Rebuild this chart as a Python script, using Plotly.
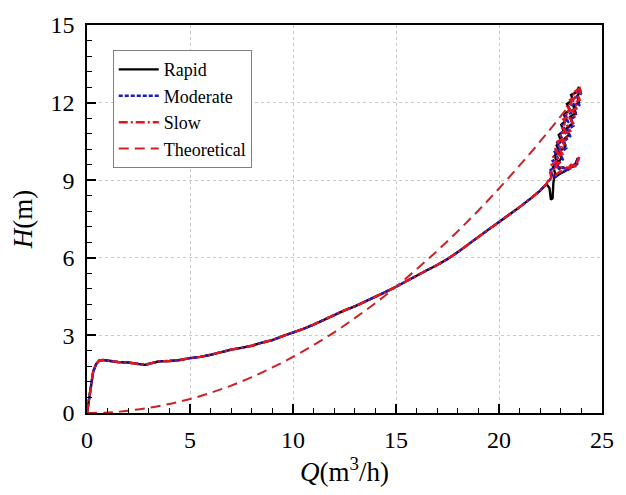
import plotly.graph_objects as go

# Shared rising section of the measured head-flow curve (the three runs coincide here)
q_main = [0.0, 0.1, 0.2, 0.3, 0.45, 0.6, 0.8, 1.0, 1.5, 2.0, 2.5, 2.8, 3.1, 3.5, 4.0,
          4.5, 5.0, 5.5, 6.0, 6.5, 7.0, 7.5, 8.0, 8.5, 9.0, 9.5, 10.0, 10.5, 11.0,
          11.5, 12.0, 12.5, 13.0, 13.5, 14.0, 14.5, 15.0, 15.5, 16.0, 16.5, 17.0,
          17.5, 18.0, 18.5, 19.0, 19.5, 20.0, 20.5, 21.0, 21.5, 22.0, 22.3]
h_main = [0.0, 0.6, 1.2, 1.6, 1.9, 2.03, 2.05, 2.02, 1.97, 1.95, 1.9, 1.86, 1.92, 2.0,
          2.01, 2.05, 2.12, 2.17, 2.25, 2.35, 2.45, 2.52, 2.6, 2.72, 2.82, 2.97, 3.1,
          3.25, 3.42, 3.6, 3.8, 3.97, 4.12, 4.3, 4.5, 4.68, 4.88, 5.1, 5.3, 5.52,
          5.72, 5.95, 6.22, 6.52, 6.82, 7.1, 7.38, 7.66, 7.96, 8.27, 8.6, 8.85]

# Unsteady end of each run, as (Q, H) pairs
rapid_tail = [(22.45, 8.7), (22.52, 8.25), (22.6, 8.3), (22.64, 8.9), (22.72, 9.3),
              (22.62, 9.5), (22.82, 9.7), (22.7, 9.95), (22.92, 10.1), (22.8, 10.35),
              (23.02, 10.5), (22.9, 10.75), (23.14, 10.9), (23.02, 11.15), (23.26, 11.3),
              (23.15, 11.55), (23.42, 11.7), (23.3, 11.95), (23.58, 12.1), (23.5, 12.3),
              (23.75, 12.4), (23.88, 12.6), (23.95, 12.45), (23.8, 12.25), (23.88, 12.0),
              (23.62, 11.85), (23.72, 11.6), (23.45, 11.45), (23.58, 11.2), (23.28, 11.0),
              (23.4, 10.75), (23.1, 10.55), (23.22, 10.3), (22.92, 10.1), (23.04, 9.85),
              (22.8, 9.65), (22.9, 9.45), (23.1, 9.5), (23.3, 9.42), (23.5, 9.55),
              (23.7, 9.6), (23.82, 9.85), (23.7, 9.55), (23.45, 9.5), (23.2, 9.35),
              (22.95, 9.25), (22.7, 9.1)]

moderate_tail = [(22.45, 9.0), (22.6, 9.15), (22.5, 9.4), (22.74, 9.5), (22.6, 9.75),
                 (22.86, 9.85), (22.7, 10.1), (22.96, 10.2), (22.82, 10.45),
                 (23.1, 10.55), (22.95, 10.8), (23.22, 10.9), (23.08, 11.15),
                 (23.36, 11.25), (23.22, 11.5), (23.5, 11.6), (23.38, 11.85),
                 (23.66, 11.95), (23.55, 12.15), (23.82, 12.25), (23.9, 12.5),
                 (23.98, 12.35), (23.84, 12.15), (23.9, 11.9), (23.64, 11.75),
                 (23.76, 11.5), (23.48, 11.35), (23.62, 11.1), (23.32, 10.95),
                 (23.46, 10.7), (23.15, 10.5), (23.28, 10.25), (22.98, 10.05),
                 (23.1, 9.8), (22.85, 9.6), (22.95, 9.42), (23.15, 9.48), (23.35, 9.4),
                 (23.55, 9.5), (23.75, 9.7), (23.88, 9.9), (23.8, 9.62), (23.6, 9.55),
                 (23.38, 9.45), (23.1, 9.3), (22.85, 9.2), (22.6, 9.05)]

slow_tail = [(22.45, 9.1), (22.58, 9.0), (22.48, 9.3), (22.7, 9.35), (22.56, 9.6),
             (22.8, 9.7), (22.64, 9.9), (22.9, 10.0), (22.74, 10.2), (23.0, 10.3),
             (22.84, 10.5), (23.1, 10.6), (22.94, 10.8), (23.2, 10.9), (23.04, 11.1),
             (23.28, 11.2), (23.12, 11.35), (23.38, 11.45), (23.22, 11.6),
             (23.48, 11.7), (23.32, 11.85), (23.58, 11.95), (23.45, 12.1),
             (23.7, 12.2), (23.58, 12.3), (23.82, 12.4), (23.72, 12.45),
             (23.92, 12.55), (23.98, 12.4), (23.82, 12.3), (23.92, 12.1),
             (23.68, 12.0), (23.84, 11.8), (23.56, 11.7), (23.72, 11.5), (23.44, 11.4),
             (23.6, 11.2), (23.32, 11.1), (23.46, 10.9), (23.18, 10.8), (23.34, 10.6),
             (23.06, 10.5), (23.22, 10.3), (22.94, 10.2), (23.08, 10.0), (22.82, 9.9),
             (22.94, 9.7), (22.75, 9.55), (22.88, 9.45), (23.0, 9.5), (23.15, 9.42),
             (23.3, 9.5), (23.42, 9.45), (23.55, 9.6), (23.7, 9.55), (23.82, 9.75),
             (23.9, 9.9), (23.78, 9.7), (23.85, 9.6), (23.65, 9.55), (23.5, 9.6),
             (23.38, 9.48), (23.2, 9.45), (23.05, 9.35), (22.9, 9.3), (22.75, 9.2),
             (22.6, 9.1)]

# Theoretical pump curve
q_theory = [0, 1, 2, 3, 4, 5, 6, 7, 8, 9, 10, 11, 12, 13, 14, 15, 16, 17, 18, 19, 20,
            21, 22, 23, 24]
h_theory = [0.0, 0.02, 0.09, 0.2, 0.35, 0.54, 0.78, 1.06, 1.39, 1.76, 2.17, 2.63, 3.12,
            3.67, 4.25, 4.88, 5.56, 6.27, 7.03, 7.83, 8.68, 9.57, 10.5, 11.48, 12.5]

FONT = "Liberation Serif, Times New Roman, serif"


def run(tail):
    q_tail, h_tail = zip(*tail)
    return q_main + list(q_tail), h_main + list(h_tail)


fig = go.Figure()
q, h = run(rapid_tail)
fig.add_trace(go.Scatter(x=q, y=h, name="Rapid", mode="lines",
                         line=dict(color="#000000", width=2.4)))
q, h = run(moderate_tail)
fig.add_trace(go.Scatter(x=q, y=h, name="Moderate", mode="lines",
                         line=dict(color="#1a1acc", width=2.4, dash="4px,2px")))
q, h = run(slow_tail)
fig.add_trace(go.Scatter(x=q, y=h, name="Slow", mode="lines",
                         line=dict(color="#e8141c", width=2.4, dash="9px,3px,2px,3px")))
fig.add_trace(go.Scatter(x=q_theory, y=h_theory, name="Theoretical", mode="lines",
                         line=dict(color="#cc2226", width=2, dash="10px,6px",
                                   shape="spline")))

axis_common = dict(
    showline=True, linecolor="#000000", linewidth=1.5, mirror=True,
    ticks="inside", ticklen=9, tickwidth=1.5, tickcolor="#000000",
    showgrid=True, gridcolor="#c8c8c8", griddash="dot", gridwidth=1,
    zeroline=False,
    tickfont=dict(family=FONT, size=24, color="#000000"),
)

fig.update_xaxes(range=[0, 25], tick0=0, dtick=5, ticklabelstandoff=4,
                 minor=dict(dtick=1, ticks="inside", ticklen=5, tickwidth=1.2,
                            tickcolor="#000000", showgrid=False),
                 title=dict(text="<i>Q</i>(m<sup>3</sup>/h)", standoff=6,
                            font=dict(family=FONT, size=27, color="#000000")),
                 **axis_common)
fig.update_yaxes(range=[0, 15], tick0=0, dtick=3, ticklabelstandoff=6,
                 minor=dict(dtick=0.6, ticks="inside", ticklen=5, tickwidth=1.2,
                            tickcolor="#000000", showgrid=False),
                 title=dict(text="<i>H</i>(m)", standoff=10,
                            font=dict(family=FONT, size=27, color="#000000")),
                 **axis_common)

fig.update_layout(
    width=626, height=495,
    margin=dict(l=87, r=12, t=21, b=82),
    paper_bgcolor="#ffffff", plot_bgcolor="#ffffff",
    showlegend=True,
    legend=dict(x=0.05, y=0.935, xanchor="left", yanchor="top",
                bgcolor="#ffffff", bordercolor="#808080", borderwidth=1,
                font=dict(family=FONT, size=18, color="#000000"),
                tracegroupgap=0, itemwidth=40),
)

fig.write_html("out.html")
